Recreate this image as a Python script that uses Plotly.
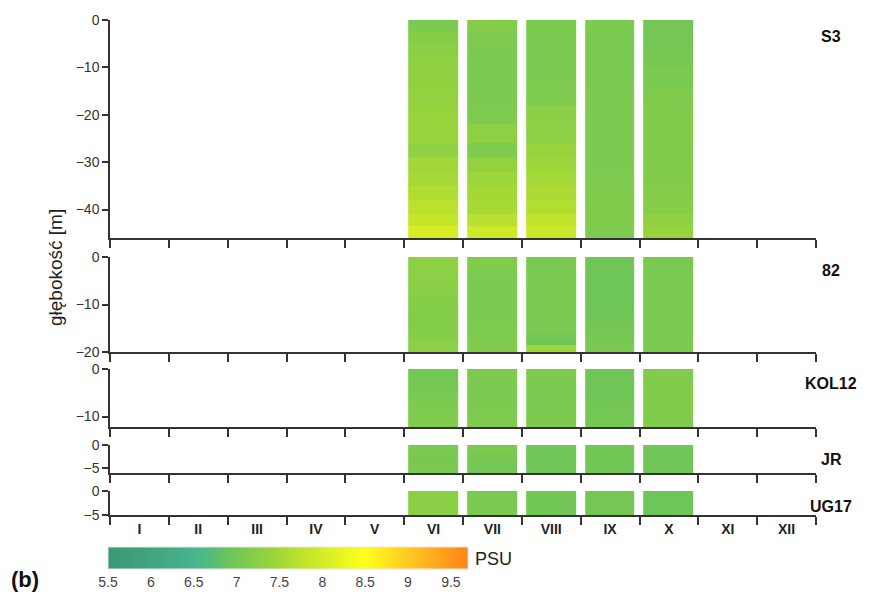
import numpy as np
import plotly.graph_objects as go

months = ['I', 'II', 'III', 'IV', 'V', 'VI', 'VII', 'VIII', 'IX', 'X', 'XI', 'XII']
measured_months = [6, 7, 8, 9, 10]  # VI..X
stations = ['S3', '82', 'KOL12', 'JR', 'UG17']

# depth cell edges (m, negative down) per station
s3_edges = [0, -2.5, -5, -7.5, -10, -14, -18, -22, -26, -29, -32, -35, -38, -41, -43.5, -46]
st82_edges = [0, -2, -4, -6, -8, -10, -12, -14, -16, -17.5, -18.5, -20]
kol12_edges = [0, -2, -4, -6, -8, -10, -12.2]
jr_edges = [0, -2, -4, -6]
ug17_edges = [0, -2.5, -5]

# salinity [PSU] per month (VI, VII, VIII, IX, X), top to bottom
s3_VI   = [7.10, 7.22, 7.25, 7.30, 7.32, 7.33, 7.38, 7.40, 7.30, 7.48, 7.52, 7.62, 7.72, 7.85, 8.02]
s3_VII  = [7.18, 7.12, 7.10, 7.10, 7.10, 7.10, 7.12, 7.28, 7.12, 7.35, 7.45, 7.50, 7.55, 7.70, 7.92]
s3_VIII = [7.10, 7.10, 7.10, 7.10, 7.10, 7.12, 7.25, 7.28, 7.38, 7.45, 7.52, 7.58, 7.65, 7.78, 7.88]
s3_IX   = [7.10, 7.08, 7.08, 7.08, 7.08, 7.10, 7.10, 7.10, 7.10, 7.10, 7.12, 7.15, 7.15, 7.15, 7.12]
s3_X    = [7.00, 7.00, 7.02, 7.03, 7.08, 7.14, 7.15, 7.15, 7.15, 7.16, 7.17, 7.20, 7.22, 7.30, 7.38]

st82_VI   = [7.28, 7.27, 7.26, 7.24, 7.22, 7.18, 7.17, 7.18, 7.22, 7.25, 7.27]
st82_VII  = [7.15, 7.12, 7.10, 7.10, 7.10, 7.10, 7.10, 7.12, 7.14, 7.16, 7.17]
st82_VIII = [7.08, 7.08, 7.08, 7.08, 7.08, 7.08, 7.08, 7.06, 7.02, 6.95, 7.45]
st82_IX   = [6.95, 6.94, 6.94, 6.94, 6.94, 6.95, 6.97, 7.00, 7.02, 7.05, 7.08]
st82_X    = [7.08, 7.08, 7.08, 7.08, 7.08, 7.08, 7.08, 7.09, 7.10, 7.10, 7.10]

kol12_VI   = [7.00, 7.02, 7.05, 7.10, 7.14, 7.15]
kol12_VII  = [7.10, 7.10, 7.10, 7.10, 7.12, 7.14]
kol12_VIII = [7.10, 7.10, 7.10, 7.10, 7.10, 7.11]
kol12_IX   = [6.95, 6.94, 6.95, 6.97, 7.00, 7.02]
kol12_X    = [7.15, 7.15, 7.15, 7.15, 7.15, 7.15]

jr_VI   = [7.08, 7.07, 7.06]
jr_VII  = [7.10, 7.04, 7.00]
jr_VIII = [6.95, 6.95, 6.95]
jr_IX   = [6.97, 6.97, 6.97]
jr_X    = [6.95, 6.95, 6.95]

ug17_VI   = [7.25, 7.25]
ug17_VII  = [7.08, 7.08]
ug17_VIII = [6.97, 6.97]
ug17_IX   = [7.00, 7.00]
ug17_X    = [6.93, 6.93]

y_ranges = [[-46, 0], [-20, 0], [-12.2, 0], [-6, 0], [-5, 0]]
y_dticks = [10, 10, 10, 5, 5]

psu_ticks = [5.5, 6, 6.5, 7, 7.5, 8, 8.5, 9, 9.5]
psu_min, psu_max = 5.5, 9.7

station_edges = [s3_edges, st82_edges, kol12_edges, jr_edges, ug17_edges]
station_values = [
    [s3_VI, s3_VII, s3_VIII, s3_IX, s3_X],
    [st82_VI, st82_VII, st82_VIII, st82_IX, st82_X],
    [kol12_VI, kol12_VII, kol12_VIII, kol12_IX, kol12_X],
    [jr_VI, jr_VII, jr_VIII, jr_IX, jr_X],
    [ug17_VI, ug17_VII, ug17_VIII, ug17_IX, ug17_X],
]

# ---------------- layout geometry (pixels, page has an 8px body margin) ----------------
OFF = 8
W, H = 885 - OFF, 594 - OFF
ML = 110 - OFF
MR = W - (816 - OFF)
PW = W - ML - MR
panel_px = [(t - OFF, b - OFF) for t, b in [(20, 238), (257, 352), (369, 427), (445, 473), (491, 515)]]
label_px_y = [v - OFF for v in [36, 270, 383, 459, 506]]


def px_x(px):
    return (px - OFF - ML) / PW


def px_y(px):
    return 1 - (px - OFF) / H


colorscale = [
    [0.000, '#3b9876'],
    [0.119, '#41a47e'],
    [0.250, '#49b68e'],
    [0.290, '#58bc76'],
    [0.333, '#6bc45a'],
    [0.381, '#7cca50'],
    [0.452, '#98d43c'],
    [0.548, '#c2e42a'],
    [0.643, '#e6f422'],
    [0.714, '#ffff1e'],
    [0.810, '#ffd420'],
    [0.905, '#ffab1e'],
    [1.000, '#ff8416'],
]

fig = go.Figure()
axis_col = '#333333'
font_fam = 'Liberation Sans, Arial, sans-serif'

for i, st in enumerate(stations):
    edges = np.array(station_edges[i], dtype=float)
    z = np.array(station_values[i], dtype=float).T  # rows = depth, cols = months
    edges_inc = edges[::-1]
    z_inc = z[::-1, :]
    n = i + 1
    fig.add_trace(go.Heatmap(
        x=measured_months, y=edges_inc, z=z_inc,
        coloraxis='coloraxis', xgap=9, ygap=0,
        xaxis='x' if n == 1 else f'x{n}', yaxis='y' if n == 1 else f'y{n}',
        hovertemplate='%{z:.2f} PSU<extra>' + st + '</extra>',
    ))
    top, bot = panel_px[i]
    dom = [1 - bot / H, 1 - top / H]
    xname = 'xaxis' if n == 1 else f'xaxis{n}'
    yname = 'yaxis' if n == 1 else f'yaxis{n}'
    last = (i == len(stations) - 1)
    fig.layout[xname] = dict(
        domain=[0, 1], anchor='y' if n == 1 else f'y{n}',
        range=[0.5, 12.5], showgrid=False, zeroline=False,
        showline=True, linecolor=axis_col, linewidth=1.5,
        tickvals=list(range(1, 13)), ticktext=months,
        ticks='', showticklabels=last,
        tickfont=dict(size=14, color='#222222', family=font_fam, weight='bold'),
        minor=dict(tickvals=[k + 0.5 for k in range(13)], ticks='outside',
                   ticklen=8, tickwidth=1.5, tickcolor=axis_col, showgrid=False),
        fixedrange=True,
    )
    fig.layout[yname] = dict(
        domain=dom, anchor='x' if n == 1 else f'x{n}',
        range=y_ranges[i], showgrid=False, zeroline=False,
        showline=True, linecolor=axis_col, linewidth=1.5,
        ticks='outside', ticklen=6, tickwidth=1.5, tickcolor=axis_col,
        dtick=y_dticks[i], tick0=0,
        tickfont=dict(size=14, color='#333333', family=font_fam),
        fixedrange=True,
    )
    fig.add_annotation(
        text=f'<b>{st}</b>', xref='paper', yref='paper',
        x=px_x(831), y=1 - label_px_y[i] / H,
        xanchor='center', yanchor='middle', showarrow=False,
        font=dict(size=16, color='#111111', family=font_fam),
    )

fig.add_annotation(
    text='głębokość [m]', xref='paper', yref='paper',
    x=px_x(56), y=px_y(268), textangle=-90,
    xanchor='center', yanchor='middle', showarrow=False,
    font=dict(size=19, color='#222222', family=font_fam),
)
fig.add_annotation(
    text='<b>(b)</b>', xref='paper', yref='paper',
    x=px_x(9), y=px_y(579),
    xanchor='left', yanchor='middle', showarrow=False,
    font=dict(size=22, color='#111111', family=font_fam),
)
fig.add_annotation(
    text='PSU', xref='paper', yref='paper',
    x=px_x(473), y=px_y(559),
    xanchor='left', yanchor='middle', showarrow=False,
    font=dict(size=18, color='#222222', family=font_fam),
)

fig.update_layout(
    width=W, height=H,
    margin=dict(l=ML, r=MR, t=0, b=0, autoexpand=False),
    paper_bgcolor='white', plot_bgcolor='white',
    font=dict(family=font_fam),
    coloraxis=dict(
        colorscale=colorscale, cmin=psu_min, cmax=psu_max,
        colorbar=dict(
            orientation='h', x=px_x(108), xanchor='left',
            y=px_y(547), yanchor='top', yref='paper',
            lenmode='pixels', len=360, thicknessmode='pixels', thickness=22,
            xpad=0, ypad=0, outlinewidth=1, outlinecolor='#e6e6e6',
            tickvals=psu_ticks, ticks='',
            ticklabelposition='outside bottom',
            tickfont=dict(size=14, color='#444444', family=font_fam),
        ),
    ),
    showlegend=False,
)

fig.write_html('out.html')
